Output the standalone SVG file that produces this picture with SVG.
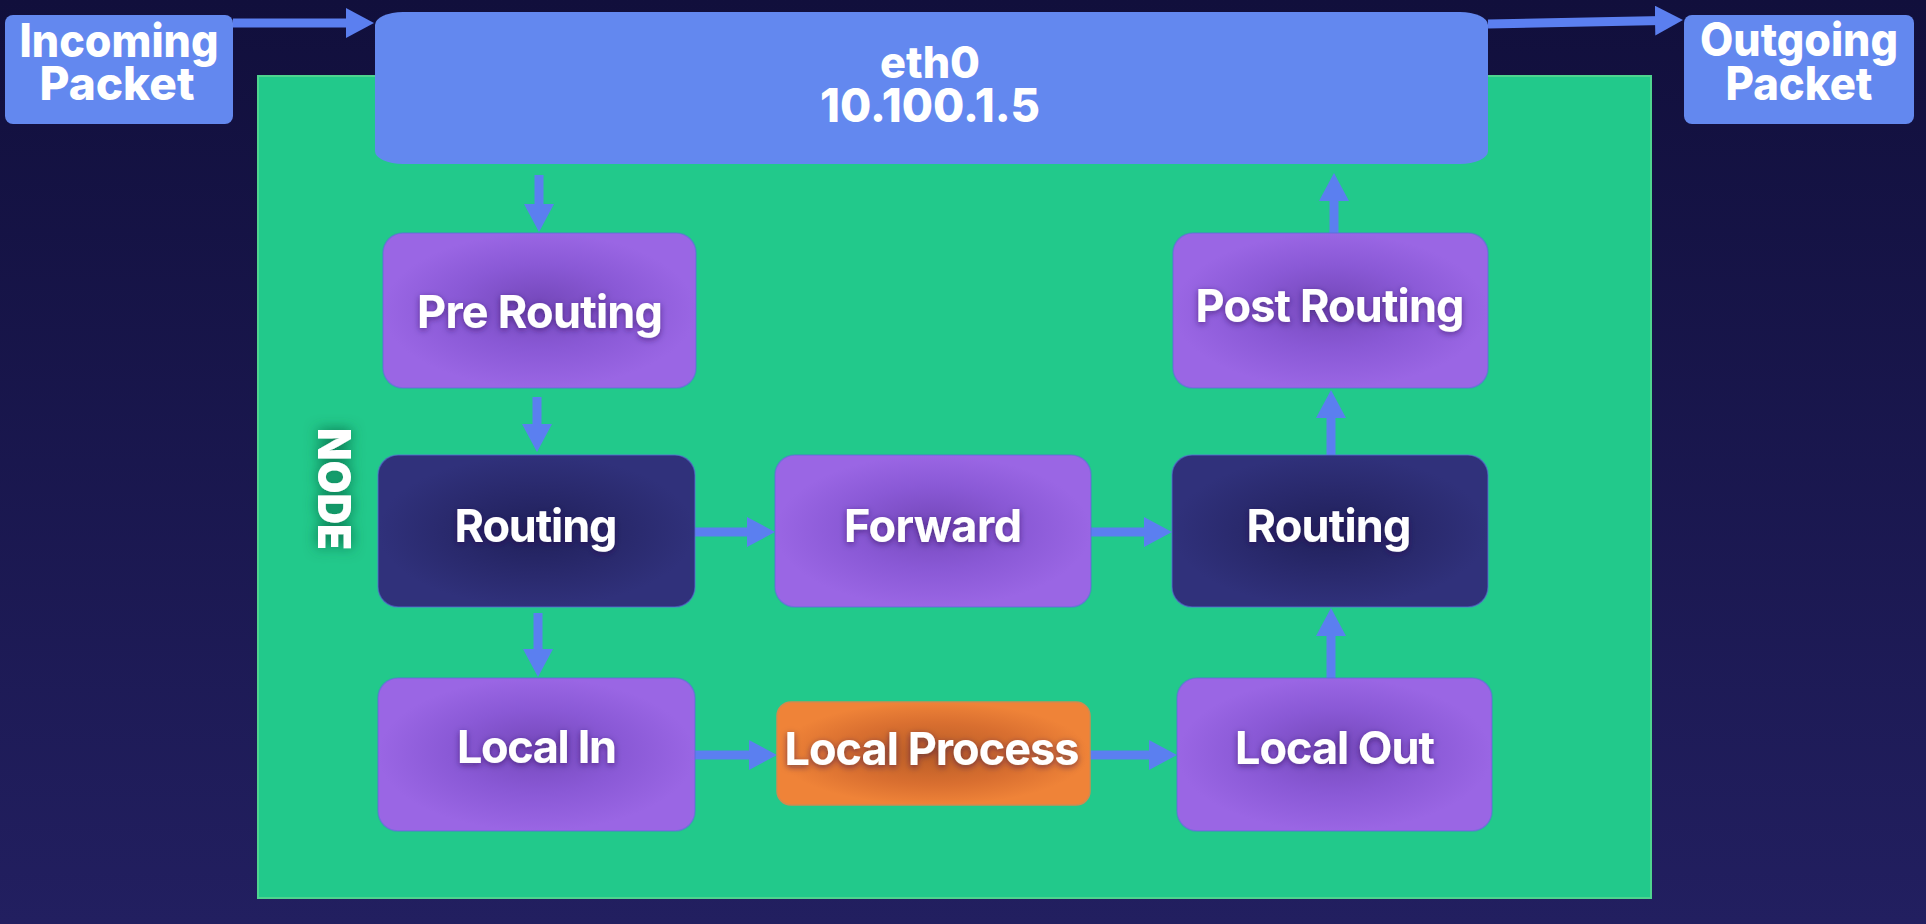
<svg xmlns="http://www.w3.org/2000/svg" width="1926" height="924" viewBox="0 0 1926 924">
<defs>
<linearGradient id="bg" x1="0" y1="0" x2="0" y2="1">
<stop offset="0" stop-color="#110f3c"/>
<stop offset="1" stop-color="#221f60"/>
</linearGradient>
<radialGradient id="gPurple" cx="0.5" cy="0.5" r="0.5" fx="0.5" fy="0.45">
<stop offset="0" stop-color="#7548bb"/>
<stop offset="0.55" stop-color="#8a59d6"/>
<stop offset="1" stop-color="#9a66e4"/>
</radialGradient>
<radialGradient id="gDark" cx="0.5" cy="0.5" r="0.5">
<stop offset="0" stop-color="#20205a"/>
<stop offset="0.6" stop-color="#2a2a6e"/>
<stop offset="1" stop-color="#30317b"/>
</radialGradient>
<radialGradient id="gOrange" cx="0.5" cy="0.5" r="0.5">
<stop offset="0" stop-color="#b85c26"/>
<stop offset="0.6" stop-color="#d96f30"/>
<stop offset="1" stop-color="#ef8338"/>
</radialGradient>
<filter id="txtShadow" x="-20%" y="-50%" width="140%" height="200%">
<feDropShadow dx="0" dy="2" stdDeviation="3" flood-color="#2a1450" flood-opacity="0.55"/>
</filter>
<filter id="nodeGlow" x="-60%" y="-30%" width="220%" height="160%">
<feGaussianBlur in="SourceAlpha" stdDeviation="7" result="b"/>
<feFlood flood-color="#0b5a3c" flood-opacity="0.8"/>
<feComposite in2="b" operator="in" result="s"/>
<feMerge><feMergeNode in="s"/><feMergeNode in="SourceGraphic"/></feMerge>
</filter>
<marker id="ah" markerUnits="userSpaceOnUse" markerWidth="28" markerHeight="30" refX="8" refY="15" orient="auto">
<path d="M0,0 L28,15 L0,30 Z" fill="#5b7ff0"/>
</marker>
<style>
.lbl{font-family:Inter,"Liberation Sans",sans-serif;font-weight:700;fill:#ffffff;text-anchor:middle;font-size:45px}
.big{font-weight:800;font-size:46px}
.box{stroke:#5a6fd8;stroke-opacity:0.55;stroke-width:1.5}
.conn{stroke:#5b7ff0;stroke-width:9;fill:none;marker-end:url(#ah)}
.blue{fill:#6388ef}
</style>
</defs>
<rect x="0" y="0" width="1926" height="924" fill="url(#bg)"/>
<g id="node-area">
<rect x="258" y="76" width="1393" height="822" fill="#22c98b" stroke="#4ed48f" stroke-width="2"/>
<g filter="url(#nodeGlow)">
<text class="lbl" transform="translate(318,489) rotate(90)" x="0" y="0" style="font-weight:900;font-size:46px" textLength="122" lengthAdjust="spacingAndGlyphs">NODE</text>
</g>
</g>
<g id="connectors">
<path class="conn" d="M233,23 L354,23"/>
<path class="conn" d="M1488,24 L1663,20.4"/>
<path class="conn" d="M539,175 L539,212"/>
<path class="conn" d="M537,397 L537,432"/>
<path class="conn" d="M538,613 L538,657"/>
<path class="conn" d="M695,532 L755,532"/>
<path class="conn" d="M1091,532 L1152,532"/>
<path class="conn" d="M695,755 L757,755"/>
<path class="conn" d="M1090,755 L1157,755"/>
<path class="conn" d="M1331,678 L1331,628"/>
<path class="conn" d="M1331,455 L1331,410"/>
<path class="conn" d="M1334,233 L1334,193"/>
</g>
<g id="incoming">
<rect class="blue" x="5" y="15" width="228" height="109" rx="8"/>
<text class="lbl big"><tspan x="119" y="57" textLength="199" lengthAdjust="spacingAndGlyphs">Incoming</tspan><tspan x="117" y="100" textLength="155" lengthAdjust="spacingAndGlyphs">Packet</tspan></text>
</g>
<g id="outgoing">
<rect class="blue" x="1684" y="15" width="230" height="109" rx="8"/>
<text class="lbl big"><tspan x="1799" y="56" textLength="198" lengthAdjust="spacingAndGlyphs">Outgoing</tspan><tspan x="1799" y="100" textLength="147" lengthAdjust="spacingAndGlyphs">Packet</tspan></text>
</g>
<g id="eth0">
<rect class="blue" x="375" y="12" width="1113" height="152" rx="28" ry="13"/>
<text class="lbl big"><tspan x="930" y="78" style="font-size:44px" textLength="100" lengthAdjust="spacingAndGlyphs">eth0</tspan><tspan x="930" y="122" textLength="220" lengthAdjust="spacingAndGlyphs">10.100.1.5</tspan></text>
</g>
<g id="pre-routing">
<rect class="box" x="383" y="233" width="313" height="155" rx="20" fill="url(#gPurple)"/>
<text class="lbl" x="540" y="328" filter="url(#txtShadow)" textLength="246">Pre Routing</text>
</g>
<g id="routing-in">
<rect class="box" x="378" y="455" width="317" height="152" rx="20" fill="url(#gDark)"/>
<text class="lbl" x="536" y="542" filter="url(#txtShadow)" textLength="163">Routing</text>
</g>
<g id="forward">
<rect class="box" x="775" y="455" width="316" height="152" rx="20" fill="url(#gPurple)"/>
<text class="lbl" x="933" y="542" filter="url(#txtShadow)" textLength="178">Forward</text>
</g>
<g id="routing-out">
<rect class="box" x="1172" y="455" width="316" height="152" rx="20" fill="url(#gDark)"/>
<text class="lbl" x="1329" y="542" filter="url(#txtShadow)" textLength="165">Routing</text>
</g>
<g id="post-routing">
<rect class="box" x="1173" y="233" width="315" height="155" rx="20" fill="url(#gPurple)"/>
<text class="lbl" x="1330" y="322" filter="url(#txtShadow)" textLength="269">Post Routing</text>
</g>
<g id="local-in">
<rect class="box" x="378" y="678" width="317" height="153" rx="20" fill="url(#gPurple)"/>
<text class="lbl" x="537" y="763" filter="url(#txtShadow)" textLength="160">Local In</text>
</g>
<g id="local-process">
<rect x="777" y="702" width="313" height="103" rx="14" fill="url(#gOrange)" stroke="#d08a50" stroke-width="1.5"/>
<text class="lbl" x="932" y="765" filter="url(#txtShadow)" textLength="295">Local Process</text>
</g>
<g id="local-out">
<rect class="box" x="1177" y="678" width="315" height="153" rx="20" fill="url(#gPurple)"/>
<text class="lbl" x="1335" y="764" filter="url(#txtShadow)" textLength="200">Local Out</text>
</g>
</svg>
